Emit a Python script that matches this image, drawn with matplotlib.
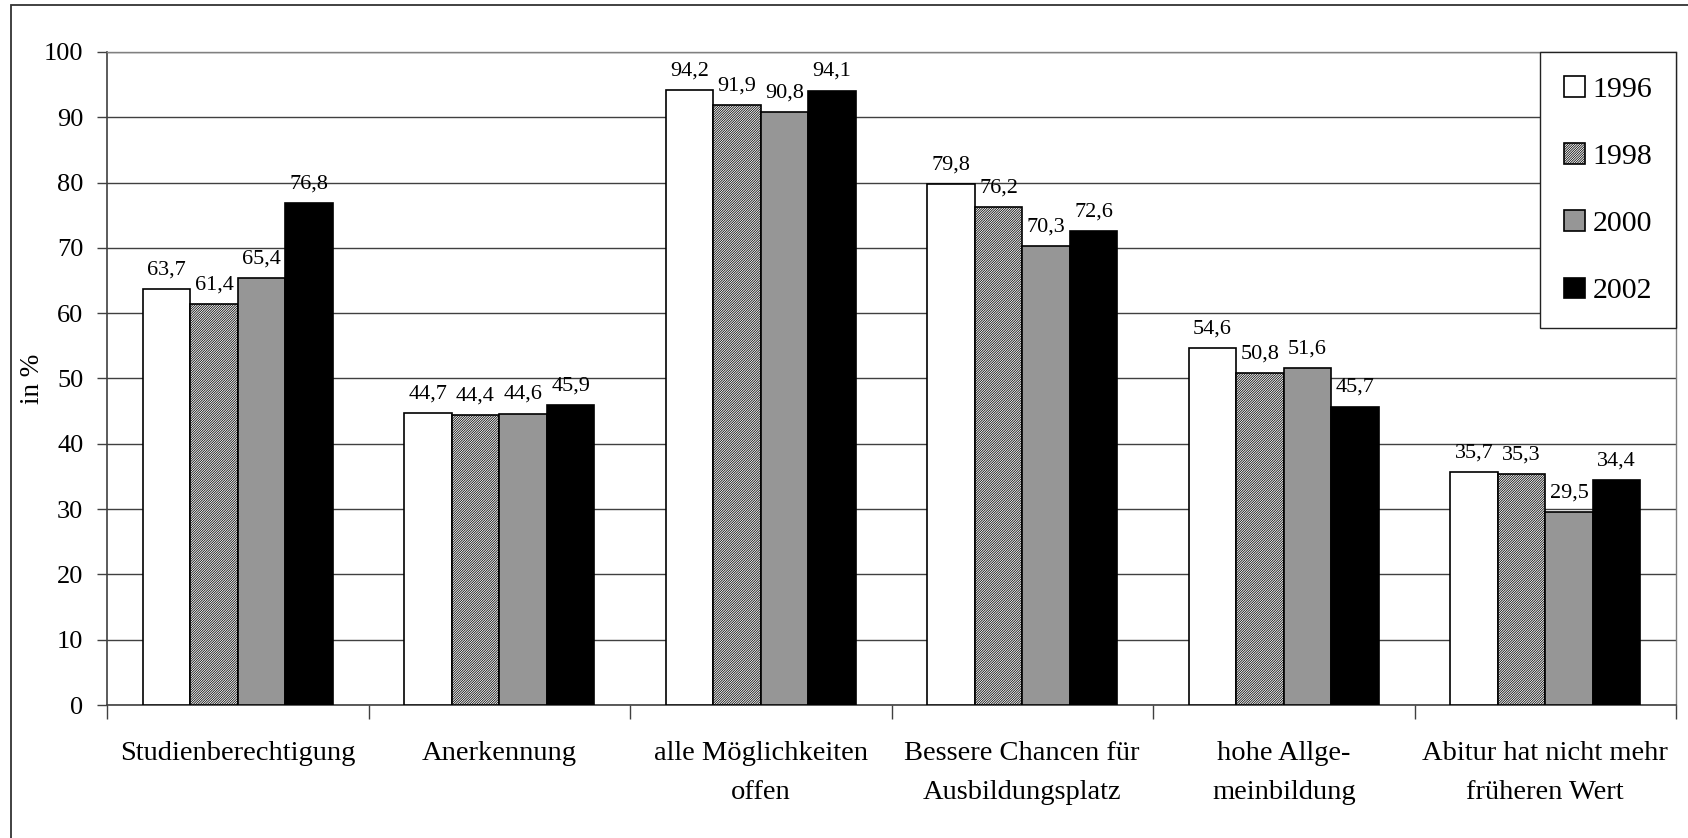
import numpy as np
import matplotlib
matplotlib.use("Agg")
import matplotlib.pyplot as plt
from matplotlib.patches import Rectangle

# ---------------- data ----------------
categories = ["Studienberechtigung", "Anerkennung", "alle Möglichkeiten\noffen",
              "Bessere Chancen für\nAusbildungsplatz", "hohe Allge-\nmeinbildung",
              "Abitur hat nicht mehr\nfrüheren Wert"]
years = ["1996", "1998", "2000", "2002"]
v1996 = [63.7, 44.7, 94.2, 79.8, 54.6, 35.7]
v1998 = [61.4, 44.4, 91.9, 76.2, 50.8, 35.3]
v2000 = [65.4, 44.6, 90.8, 70.3, 51.6, 29.5]
v2002 = [76.8, 45.9, 94.1, 72.6, 45.7, 34.4]
series = [v1996, v1998, v2000, v2002]

# ---------------- style ----------------
plt.rcParams['font.family'] = ['Liberation Serif', 'DejaVu Serif']
plt.rcParams['hatch.linewidth'] = 0.55

faces = ["white", "white", "#969696", "black"]
hatches = [None, "//////////////", None, None]

W, H = 1688, 838
fig = plt.figure(figsize=(W / 100, H / 100), dpi=100)

# outer chart border (runs off the right and bottom edges)
fig.add_artist(Rectangle((11 / W, -0.1), 1, 1.1 - 5 / H, transform=fig.transFigure,
                         fill=False, edgecolor="#333333", linewidth=1.3))

ax = fig.add_axes([107 / W, (H - 705) / H, (1676 - 107) / W, (705 - 52) / H])

n = len(series)
x = np.arange(len(categories))
bw = 1 / (n + 1.5)
for i, vals in enumerate(series):
    pos = x + (i - (n - 1) / 2) * bw
    bars = ax.bar(pos, vals, width=bw, color=faces[i], edgecolor="black",
                  linewidth=1.2, hatch=hatches[i], label=years[i], zorder=3)
    for b, v in zip(bars, vals):
        ax.annotate(f"{v:.1f}".replace(".", ","), (b.get_x() + b.get_width() / 2, v),
                    xytext=(0, 7), textcoords="offset points",
                    ha="center", va="bottom", fontsize=16)

ax.set_xlim(-0.5, len(categories) - 0.5)
ax.set_ylim(0, 100)
ax.set_yticks(np.arange(0, 101, 10))
ax.tick_params(axis="y", labelsize=19, length=7, width=1, color="#404040", pad=10)
ax.yaxis.grid(True, color="#404040", linewidth=1, zorder=0)
ax.set_ylabel("in %", fontsize=19.5)
ax.yaxis.set_label_coords(-0.0395, 0.5)

# category separators as major ticks, names on minor ticks
ax.set_xticks(np.arange(-0.5, len(categories)))
ax.set_xticklabels([])
ax.set_xticks(x, minor=True)
ax.set_xticklabels(categories, minor=True, fontsize=20.5, linespacing=1.75)
ax.tick_params(axis="x", which="major", length=10, width=1, color="#404040", direction="out")
ax.tick_params(axis="x", which="minor", length=0, pad=26)

for s in ["left", "bottom"]:
    ax.spines[s].set_color("#404040")
    ax.spines[s].set_linewidth(1.2)
for s in ["top", "right"]:
    ax.spines[s].set_color("#808080")
    ax.spines[s].set_linewidth(1)

leg = ax.legend(loc="upper right", bbox_to_anchor=(1.0, 1.0), fontsize=21.5,
                frameon=True, fancybox=False, edgecolor="#222222", framealpha=1,
                handlelength=0.7, handleheight=0.7, handletextpad=0.25,
                labelspacing=1.35, borderpad=0.8, borderaxespad=0)
leg.get_frame().set_linewidth(1)
leg.set_zorder(5)

fig.savefig("out.png", dpi=100)
